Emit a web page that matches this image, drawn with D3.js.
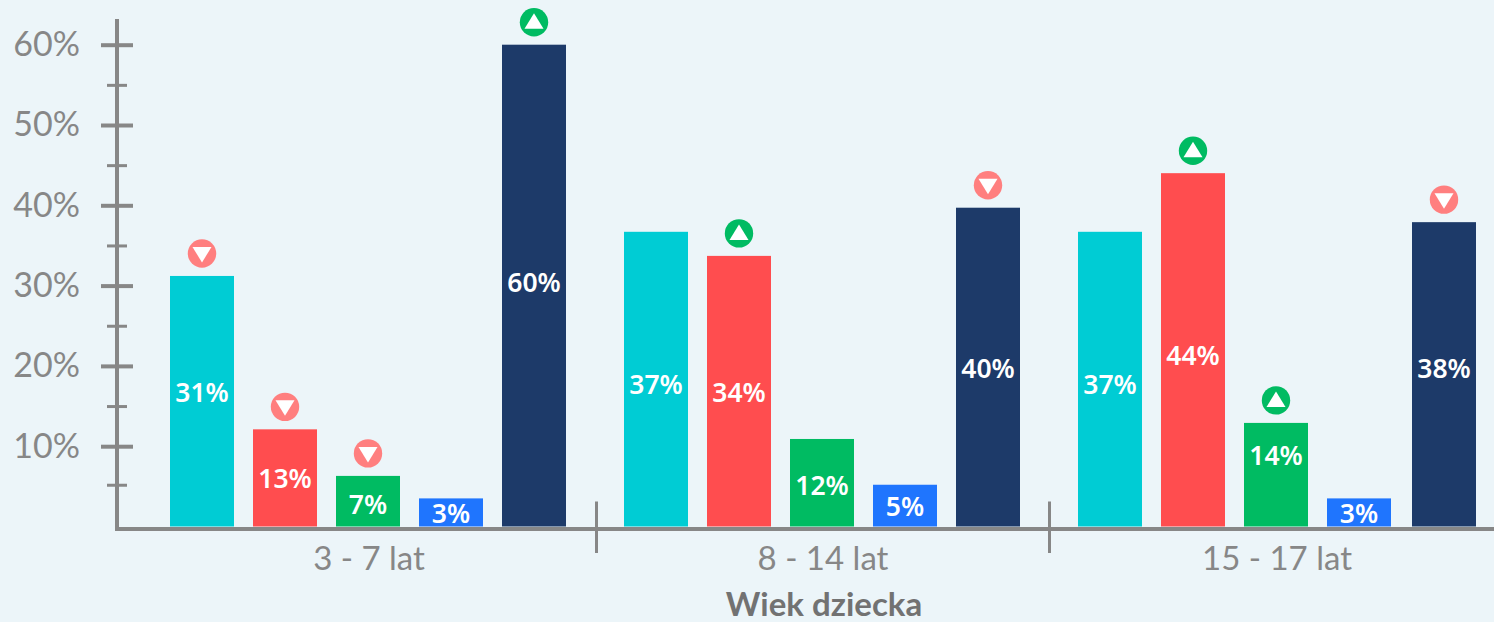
<!DOCTYPE html>
<html><head><meta charset="utf-8">
<style>html,body{margin:0;padding:0;background:#ecf5f9;overflow:hidden}svg{display:block}
text{font-family:"Noto Sans",sans-serif}</style>
<script src="https://cdn.jsdelivr.net/npm/d3@7"></script></head><body>
<svg id="c" width="1494" height="622"></svg>
<script>
const groups = ["3 - 7 lat", "8 - 14 lat", "15 - 17 lat"];
const seriesKeys = ["a", "b", "c", "d", "e"];
const seriesColors = ["#00ccd4", "#ff4d4f", "#00bb62", "#1f75fe", "#1d3a69"];
const barValues = [
  [31.2, 12.1, 6.3, 3.5, 60],
  [36.7, 33.7, 10.9, 5.2, 39.7],
  [36.7, 44, 12.9, 3.5, 37.9]
];
const barLabels = [
  ["31%", "13%", "7%", "3%", "60%"],
  ["37%", "34%", "12%", "5%", "40%"],
  ["37%", "44%", "14%", "3%", "38%"]
];
const labelLevels = [
  [16.8, 6.1, 2.8, 1.7, 30.5],
  [17.7, 16.8, 5.2, 2.5, 19.8],
  [17.7, 21.4, 8.9, 1.7, 19.8]
];
const trends = [
  ["down", "down", "down", null, "up"],
  [null, "up", null, null, "down"],
  [null, "up", "up", null, "down"]
];
const majorTicks = [10, 20, 30, 40, 50, 60];
const minorTicks = [5.2, 15, 25, 35, 45, 55];
const xTitle = "Wiek dziecka";

const grey = "#878787";
const axisFont = '"Lato",sans-serif';
const svg = d3.select("#c");
svg.append("rect").attr("width", 1494).attr("height", 622).attr("fill", "#ecf5f9");

const y = d3.scaleLinear().domain([0, 63.2]).range([526.5, 19]);
const x0 = d3.scaleBand().domain(groups).range([143, 143 + 454 * 3]);
const x1 = d3.scaleBand().domain(seriesKeys).range([27, 423]).paddingInner(19 / 83).paddingOuter(0);

const minor = d3.axisLeft(y).tickValues(minorTicks).tickSize(20).tickFormat("");
const major = d3.axisLeft(y).tickValues(majorTicks).tickSize(32).tickPadding(21).tickFormat(d => d + "%");
const gMinor = svg.append("g").attr("transform", "translate(127,0)").call(minor);
const gMajor = svg.append("g").attr("transform", "translate(133,0)").call(major);
gMinor.select(".domain").remove(); gMajor.select(".domain").remove();
gMinor.selectAll("line").attr("stroke", grey).attr("stroke-width", 3);
gMajor.selectAll("line").attr("stroke", grey).attr("stroke-width", 4);
gMajor.selectAll("text").attr("fill", grey).style("font-size", "34px").style("font-family", axisFont).style("font-weight", 400);

svg.append("line").attr("x1", 117).attr("x2", 117).attr("y1", y.range()[1]).attr("y2", y(0) + 4)
  .attr("stroke", grey).attr("stroke-width", 4);
svg.append("line").attr("x1", 115).attr("x2", 1494).attr("y1", y(0) + 2.5).attr("y2", y(0) + 2.5)
  .attr("stroke", grey).attr("stroke-width", 4);

groups.slice(1).forEach((g, i) => {
  const sx = x0(g) - 0.5 - i;
  svg.append("line").attr("x1", sx).attr("x2", sx).attr("y1", y(0) - 25).attr("y2", y(0) + 26.5)
    .attr("stroke", grey).attr("stroke-width", 3);
});

groups.forEach((g, i) => {
  const gr = svg.append("g").attr("transform", `translate(${x0(g)},0)`);
  seriesKeys.forEach((k, j) => {
    const nudge = (i === 2 && j === 4) ? 2 : 0;
    const v = barValues[i][j], left = x1(k) + nudge, cx = left + x1.bandwidth() / 2;
    gr.append("rect").attr("x", left).attr("y", y(v)).attr("width", x1.bandwidth()).attr("height", y(0) - y(v))
      .attr("fill", seriesColors[j]);
    gr.append("text").attr("x", cx).attr("y", y(labelLevels[i][j])).attr("text-anchor", "middle")
      .attr("dominant-baseline", "central").attr("fill", "#fff").attr("font-size", 26.5).attr("font-weight", 600)
      .text(barLabels[i][j]);
    const t = trends[i][j];
    if (t) {
      const cy = y(v) - 22.5;
      gr.append("circle").attr("cx", cx).attr("cy", cy).attr("r", 14.2)
        .attr("fill", t === "up" ? "#00bb62" : "#ff7f7f");
      const p = t === "up"
        ? [[cx, cy - 9], [cx - 9.5, cy + 6.5], [cx + 9.5, cy + 6.5]]
        : [[cx, cy + 9], [cx - 9.5, cy - 6.5], [cx + 9.5, cy - 6.5]];
      gr.append("path").attr("d", d3.line()(p) + "Z").attr("fill", "#fff");
    }
  });
  svg.append("text").attr("x", x0(g) + x0.bandwidth() / 2 - 1).attr("y", 570).attr("text-anchor", "middle")
    .attr("fill", grey).style("font-family", axisFont).attr("font-size", 33).text(g);
});

svg.append("text").attr("x", 824).attr("y", 616).attr("text-anchor", "middle").attr("fill", "#727272")
  .style("font-family", axisFont).attr("font-size", 33).attr("font-weight", 700).text(xTitle);
</script></body></html>
